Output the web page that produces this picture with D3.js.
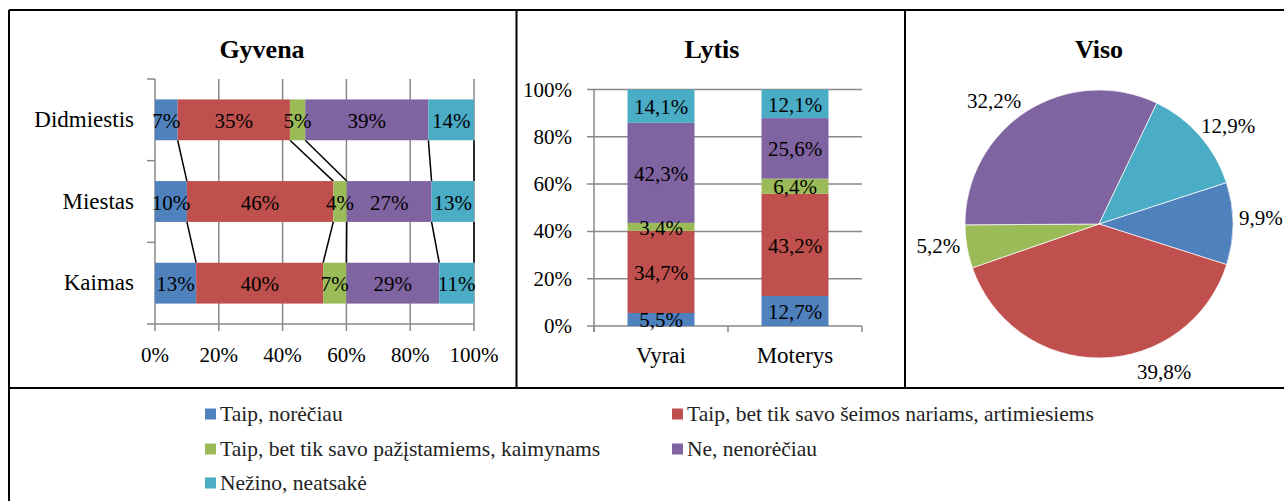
<!DOCTYPE html>
<html>
<head>
<meta charset="utf-8">
<script src="https://cdn.jsdelivr.net/npm/d3@7"></script>
<style>
  body { margin: 0; background: #fff; }
  svg text { font-family: "Liberation Serif", "Times New Roman", serif; fill: #000; }
</style>
</head>
<body>
<div id="chart"></div>
<script>
// series (legend) names and colours
const seriesNames = [
    "Taip, norėčiau",
    "Taip, bet tik savo šeimos nariams, artimiesiems",
    "Taip, bet tik savo pažįstamiems, kaimynams",
    "Ne, nenorėčiau",
    "Nežino, neatsakė"
];
const colors = ["#4F81BD", "#C0504D", "#9BBB59", "#8064A2", "#4BACC6"];

// Gyvena (100% stacked horizontal bars)
const gyvenaCats = ["Didmiestis", "Miestas", "Kaimas"];
const didmiestis = [7.1, 35.2, 4.8, 38.6, 14.3];
const miestas = [10.0, 45.9, 4.2, 26.6, 13.3];
const kaimas = [12.9, 39.8, 7.3, 29.1, 10.9];
const gyvenaTicks = [0, 20, 40, 60, 80, 100];

// Lytis (100% stacked columns)
const lytisCats = ["Vyrai", "Moterys"];
const vyrai = [5.5, 34.7, 3.4, 42.3, 14.1];
const moterys = [12.7, 43.2, 6.4, 25.6, 12.1];
const lytisTicks = [0, 20, 40, 60, 80, 100];

// Viso (pie)
const visoValues = [9.9, 39.8, 5.2, 32.2, 12.9];
// small angle nudges (degrees) for the outside pie labels, like Excel's best fit
const pieLabelNudge = [-2, -23, 2, -8, 4];

const width = 1284;
const height = 501;
const gridColor = "#898989";

const svg = d3.select("#chart")
    .append("svg")
    .attr("width", width)
    .attr("height", height);

const pct0 = v => d3.format(".0f")(v) + "%";
const pct1 = v => d3.format(".1f")(v).replace(".", ",") + "%";

// ---------- panel frames ----------
const frame = svg.append("g")
    .attr("stroke", "#000")
    .attr("stroke-width", 2);
frame.append("line").attr("x1", 9).attr("x2", width).attr("y1", 10).attr("y2", 10);
frame.append("line").attr("x1", 9).attr("x2", width).attr("y1", 388).attr("y2", 388);
frame.append("line").attr("x1", 9).attr("x2", 9).attr("y1", 10).attr("y2", height);
frame.append("line").attr("x1", 516.5).attr("x2", 516.5).attr("y1", 10).attr("y2", 388);
frame.append("line").attr("x1", 905).attr("x2", 905).attr("y1", 10).attr("y2", 388);

function title(x, text) {
    svg.append("text")
        .attr("x", x)
        .attr("y", 58)
        .attr("text-anchor", "middle")
        .style("font-size", "26px")
        .style("font-weight", "bold")
        .text(text);
}

// ---------- Gyvena ----------
title(262, "Gyvena");
{
    const rows = [didmiestis, miestas, kaimas];
    const x = d3.scaleLinear().domain([0, 100]).range([155, 474]);
    const y = d3.scaleBand().domain(gyvenaCats).range([79, 324]).paddingInner(0.5).paddingOuter(0.25);
    const g = svg.append("g");

    // vertical gridlines + ticks below
    g.selectAll("line.grid").data(gyvenaTicks).enter().append("line")
        .attr("x1", d => x(d)).attr("x2", d => x(d))
        .attr("y1", 79).attr("y2", 331)
        .attr("stroke", gridColor).attr("stroke-width", 1.5);
    // axis lines
    g.append("line").attr("x1", x(0)).attr("x2", x(100)).attr("y1", 324).attr("y2", 324)
        .attr("stroke", gridColor).attr("stroke-width", 1.5);
    const bounds = d3.range(gyvenaCats.length + 1).map(i => 79 + i * y.step());
    g.selectAll("line.ytick").data(bounds).enter().append("line")
        .attr("x1", x(0) - 8).attr("x2", x(0))
        .attr("y1", d => d).attr("y2", d => d)
        .attr("stroke", gridColor).attr("stroke-width", 1.5);

    // stacked rows
    const stacked = rows.map((vals, i) => {
        let acc = 0;
        return vals.map((v, k) => {
            const s = { cat: gyvenaCats[i], k: k, v: v, x0: acc, x1: acc + v };
            acc += v;
            return s;
        });
    });

    // series lines between bars
    for (let i = 0; i < stacked.length - 1; i++) {
        stacked[i].forEach((s, k) => {
            g.append("line")
                .attr("x1", x(s.x1)).attr("y1", y(gyvenaCats[i]) + y.bandwidth())
                .attr("x2", x(stacked[i + 1][k].x1)).attr("y2", y(gyvenaCats[i + 1]))
                .attr("stroke", "#000").attr("stroke-width", 1.5);
        });
    }

    const segs = stacked.flat();
    g.selectAll("rect.seg").data(segs).enter().append("rect")
        .attr("x", d => x(d.x0))
        .attr("y", d => y(d.cat))
        .attr("width", d => x(d.x1) - x(d.x0))
        .attr("height", y.bandwidth())
        .attr("fill", d => colors[d.k]);
    g.selectAll("text.seg").data(segs).enter().append("text")
        .attr("x", d => x((d.x0 + d.x1) / 2))
        .attr("y", d => y(d.cat) + y.bandwidth() / 2 + 8)
        .attr("text-anchor", "middle")
        .style("font-size", "21px")
        .text(d => pct0(d.v));

    // labels
    g.selectAll("text.cat").data(gyvenaCats).enter().append("text")
        .attr("x", 134)
        .attr("y", d => y(d) + y.bandwidth() / 2 + 7)
        .attr("text-anchor", "end")
        .style("font-size", "23px")
        .text(d => d);
    g.selectAll("text.xt").data(gyvenaTicks).enter().append("text")
        .attr("x", d => x(d))
        .attr("y", 362)
        .attr("text-anchor", "middle")
        .style("font-size", "21px")
        .text(d => d + "%");
}

// ---------- Lytis ----------
title(712, "Lytis");
{
    const cols = [vyrai, moterys];
    const x = d3.scaleBand().domain(lytisCats).range([594, 862]).paddingInner(0.5).paddingOuter(0.25);
    const y = d3.scaleLinear().domain([0, 100]).range([326, 89.5]);
    const g = svg.append("g");

    g.selectAll("line.grid").data(lytisTicks).enter().append("line")
        .attr("x1", 587).attr("x2", 862)
        .attr("y1", d => y(d)).attr("y2", d => y(d))
        .attr("stroke", gridColor).attr("stroke-width", 1.5);
    g.append("line").attr("x1", 594).attr("x2", 594).attr("y1", y(100)).attr("y2", 332)
        .attr("stroke", gridColor).attr("stroke-width", 1.5);
    const xb = d3.range(lytisCats.length + 1).map(i => 594 + i * x.step());
    g.selectAll("line.xtick").data(xb).enter().append("line")
        .attr("x1", d => d).attr("x2", d => d)
        .attr("y1", 326).attr("y2", 332)
        .attr("stroke", gridColor).attr("stroke-width", 1.5);

    const segs = [];
    cols.forEach((vals, i) => {
        let acc = 0;
        vals.forEach((v, k) => {
            segs.push({ cat: lytisCats[i], k: k, v: v, y0: acc, y1: acc + v });
            acc += v;
        });
    });
    g.selectAll("rect.seg").data(segs).enter().append("rect")
        .attr("x", d => x(d.cat))
        .attr("y", d => y(d.y1))
        .attr("width", x.bandwidth())
        .attr("height", d => y(d.y0) - y(d.y1))
        .attr("fill", d => colors[d.k]);
    g.selectAll("text.seg").data(segs).enter().append("text")
        .attr("x", d => x(d.cat) + x.bandwidth() / 2)
        .attr("y", d => y((d.y0 + d.y1) / 2) + 8)
        .attr("text-anchor", "middle")
        .style("font-size", "21px")
        .text(d => pct1(d.v));

    g.selectAll("text.yt").data(lytisTicks).enter().append("text")
        .attr("x", 572)
        .attr("y", d => y(d) + 7)
        .attr("text-anchor", "end")
        .style("font-size", "21px")
        .text(d => d + "%");
    g.selectAll("text.xt").data(lytisCats).enter().append("text")
        .attr("x", d => x(d) + x.bandwidth() / 2)
        .attr("y", 363)
        .attr("text-anchor", "middle")
        .style("font-size", "23px")
        .text(d => d);
}

// ---------- Viso ----------
title(1099, "Viso");
{
    const cx = 1099, cy = 224, r = 134;
    const a0 = 72 * Math.PI / 180;
    const pie = d3.pie().sort(null).startAngle(a0).endAngle(a0 + 2 * Math.PI);
    const arcs = pie(visoValues);
    const arc = d3.arc().innerRadius(0).outerRadius(r);
    const g = svg.append("g").attr("transform", `translate(${cx},${cy})`);

    g.selectAll("path").data(arcs).enter().append("path")
        .attr("d", arc)
        .attr("fill", (d, i) => colors[i])
        .attr("stroke", "#fff")
        .attr("stroke-width", 0.7);

    g.selectAll("text").data(arcs).enter().append("text")
        .attr("transform", (d, i) => {
            const a = (d.startAngle + d.endAngle) / 2 + pieLabelNudge[i] * Math.PI / 180;
            const dist = r + 28;
            return `translate(${Math.sin(a) * dist},${-Math.cos(a) * dist + 7})`;
        })
        .attr("text-anchor", "middle")
        .style("font-size", "21px")
        .text(d => pct1(d.data));
}

// ---------- legend ----------
{
    const colX = [205, 672];
    const rowY = [414, 449, 483];
    const lg = svg.append("g");
    const items = lg.selectAll("g").data(seriesNames).enter().append("g")
        .attr("transform", (d, i) => `translate(${colX[i % 2]},${rowY[Math.floor(i / 2)]})`);
    items.append("rect")
        .attr("x", 0).attr("y", -5.5)
        .attr("width", 11).attr("height", 11)
        .attr("fill", (d, i) => colors[i]);
    items.append("text")
        .attr("x", 15)
        .attr("y", 7)
        .style("font-size", "21.5px")
        .style("fill", "#222")
        .text(d => d);
}
</script>
</body>
</html>
